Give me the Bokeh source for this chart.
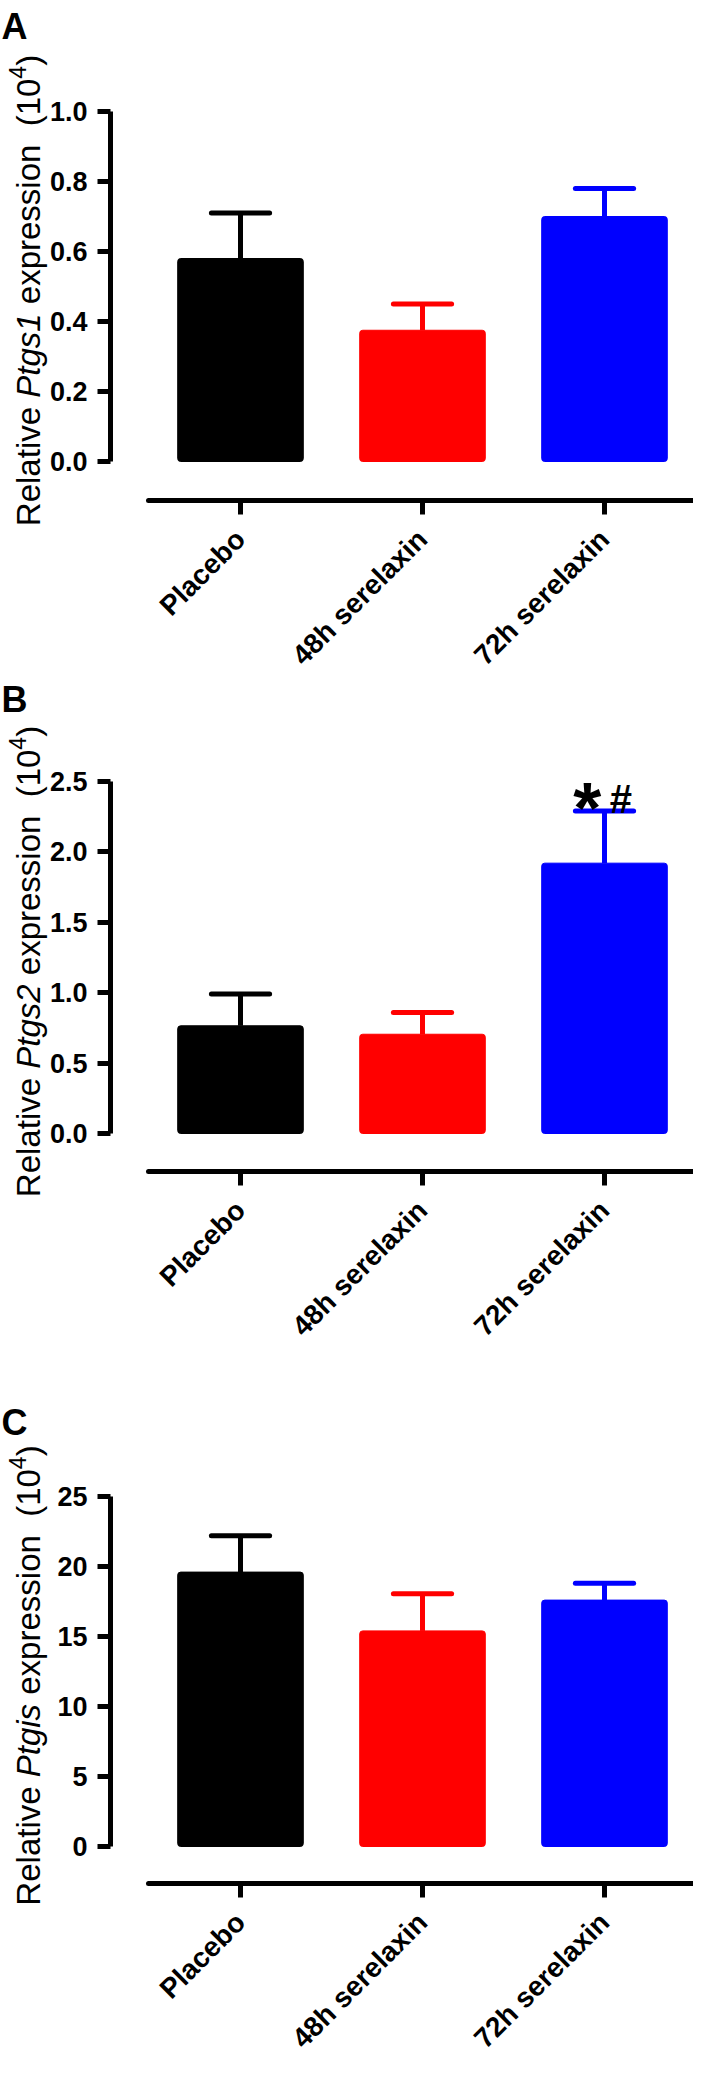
import math
from bokeh.plotting import figure
from bokeh.models import Range1d, FixedTicker, NumeralTickFormatter, Label, LinearAxis
from bokeh.layouts import column
from bokeh.embed import file_html
from bokeh.resources import INLINE

# ---------------- data ----------------
categories = ["Placebo", "48h serelaxin", "72h serelaxin"]
bar_colors = ["#000000", "#FF0000", "#0000FF"]

ptgs1_mean = [0.58, 0.375, 0.70]
ptgs1_sem = [0.13, 0.075, 0.08]

ptgs2_mean = [0.765, 0.705, 1.92]
ptgs2_sem = [0.225, 0.155, 0.37]
ptgs2_marks = ["", "", "*#"]

ptgis_mean = [19.6, 15.4, 17.6]
ptgis_sem = [2.6, 2.65, 1.2]

ptgs1_ticks = [0.0, 0.2, 0.4, 0.6, 0.8, 1.0]
ptgs2_ticks = [0.0, 0.5, 1.0, 1.5, 2.0, 2.5]
ptgis_ticks = [0, 5, 10, 15, 20, 25]

# ---------------- layout geometry (page pixels) ----------------
FONT = "Liberation Sans"
W = 693
PAGE_L = 8.0
X_PPU = 182.0          # px per category
X_C0 = 248.0           # page x of first category centre
YAXIS_X, XAXIS_L = 118.0, 156.0

ARIAL = {' ': 278, '(': 333, ')': 333, 'R': 722, 'P': 667, 'e': 556, 'l': 222,
         'a': 556, 't': 278, 'i': 222, 'v': 500, 'g': 556, 's': 500, 'x': 500,
         'p': 556, 'r': 333, 'o': 556, 'n': 556}


def tw(s, size):
    return sum(ARIAL.get(c, 556) for c in s) / 1000.0 * size


def xd(px):
    return 0.5 + (px - X_C0) / X_PPU


panels = [
    dict(letter="A", gene="Ptgs1", mean=ptgs1_mean, sem=ptgs1_sem, ticks=ptgs1_ticks,
         fmt="0.0", marks=None, top=8, h=673, zero=469, tmax=119, xaxis=508,
         letter_base=34),
    dict(letter="B", gene="Ptgs2", mean=ptgs2_mean, sem=ptgs2_sem, ticks=ptgs2_ticks,
         fmt="0.0", marks=ptgs2_marks, top=681, h=684, zero=1141, tmax=789, xaxis=1179,
         letter_base=707),
    dict(letter="C", gene="Ptgis", mean=ptgis_mean, sem=ptgis_sem, ticks=ptgis_ticks,
         fmt="0", marks=None, top=1365, h=700, zero=1854, tmax=1504, xaxis=1891,
         letter_base=1430),
]

figs = []
for P in panels:
    ymax = P["ticks"][-1]
    ppu = (P["zero"] - P["tmax"]) / ymax

    def yd(py, P=P, ppu=ppu):
        return (P["zero"] - py) / ppu

    p = figure(width=W, height=P["h"], output_backend="svg", toolbar_location=None,
               x_range=Range1d(xd(PAGE_L), xd(PAGE_L + W)),
               y_range=Range1d(yd(P["top"] + P["h"]), yd(P["top"])),
               x_axis_type=None, y_axis_type=None,
               min_border=0, min_border_left=0, min_border_right=0,
               min_border_top=0, min_border_bottom=0)
    p.outline_line_color = None
    p.background_fill_color = "white"
    p.border_fill_color = "white"

    xs = [i + 0.5 for i in range(len(categories))]
    upper = [m + s for m, s in zip(P["mean"], P["sem"])]

    p.vbar(x=xs, top=P["mean"], bottom=0, width=0.69, fill_color=bar_colors,
           line_color=bar_colors, line_width=1, border_radius=3)
    p.segment(x0=xs, y0=P["mean"], x1=xs, y1=upper, line_color=bar_colors, line_width=5)
    p.segment(x0=[x - 0.16 for x in xs], y0=upper, x1=[x + 0.16 for x in xs], y1=upper,
              line_color=bar_colors, line_width=5, line_cap="round")

    # x axis (detached below the bars)
    xa = LinearAxis(fixed_location=yd(P["xaxis"]))
    xa.ticker = FixedTicker(ticks=xs)
    xa.major_label_overrides = {x: c for x, c in zip(xs, categories)}
    xa.major_label_orientation = math.pi / 4
    xa.major_label_text_font = FONT
    xa.major_label_text_font_style = "bold"
    xa.major_label_text_font_size = "28px"
    xa.major_label_text_color = "black"
    xa.axis_line_width = 5
    xa.axis_line_cap = "round"
    xa.major_tick_line_width = 5
    xa.major_tick_out = 14
    xa.major_tick_in = 0
    xa.minor_tick_line_color = None
    xa.major_label_standoff = 20
    xa.bounds = (xd(XAXIS_L), xd(PAGE_L + W))
    p.add_layout(xa, "below")

    ya = LinearAxis(fixed_location=xd(YAXIS_X))
    ya.ticker = FixedTicker(ticks=P["ticks"])
    ya.formatter = NumeralTickFormatter(format=P["fmt"])
    ya.major_label_text_font = FONT
    ya.major_label_text_font_style = "bold"
    ya.major_label_text_font_size = "27px"
    ya.major_label_text_color = "black"
    ya.axis_line_width = 5
    ya.major_tick_line_width = 5
    ya.major_tick_out = 13
    ya.major_tick_in = 0
    ya.minor_tick_line_color = None
    ya.major_label_standoff = 10
    ya.bounds = (0, ymax)
    p.add_layout(ya, "left")

    # panel letter
    p.add_layout(Label(x=xd(9), y=yd(P["letter_base"]), text=P["letter"],
                       text_font=FONT, text_font_style="bold", text_font_size="36px",
                       text_align="left", text_baseline="alphabetic", text_color="black"))

    # rotated y title with italic gene name and superscript (word by word)
    fs = 33
    sp = tw(" ", fs)
    pieces = [("Relative", "normal", fs, 0, sp), (P["gene"], "italic", fs, 0, sp),
              ("expression", "normal", fs, 0, 2 * sp), ("(10", "normal", fs, 0, 0),
              ("4", "normal", 23, 11, 0), (")", "normal", fs, 0, 0)]
    total = sum(tw(t, s) + g for t, _, s, _, g in pieces)
    centre = (P["zero"] + P["tmax"]) / 2.0
    cur = centre + total / 2.0 + 4
    base_x = 36.0
    for t, style, s, raise_px, gap in pieces:
        p.add_layout(Label(x=xd(base_x - raise_px), y=yd(cur), text=t, angle=math.pi / 2,
                           text_font=FONT, text_font_style=style,
                           text_font_size="%dpx" % s, text_align="left",
                           text_baseline="alphabetic", text_color="black"))
        cur -= tw(t, s) + gap

    # significance marks
    if P["marks"]:
        for i, mk in enumerate(P["marks"]):
            for ch in mk:
                if ch == "*":
                    p.add_layout(Label(x=xs[i] - 0.095, y=upper[i] + 3 / ppu,
                                       text="*", text_font=FONT, text_font_style="bold",
                                       text_font_size="72px", text_align="center",
                                       text_baseline="alphabetic", text_color="black"))
                else:
                    p.add_layout(Label(x=xs[i] + 0.09, y=upper[i] + 12 / ppu,
                                       text=ch, text_font=FONT, text_font_style="bold",
                                       text_font_size="40px", text_align="center",
                                       text_baseline="alphabetic", text_color="black"))
    figs.append(p)

layout = column(*figs, spacing=0)
open("out.html", "w").write(file_html(layout, INLINE))
